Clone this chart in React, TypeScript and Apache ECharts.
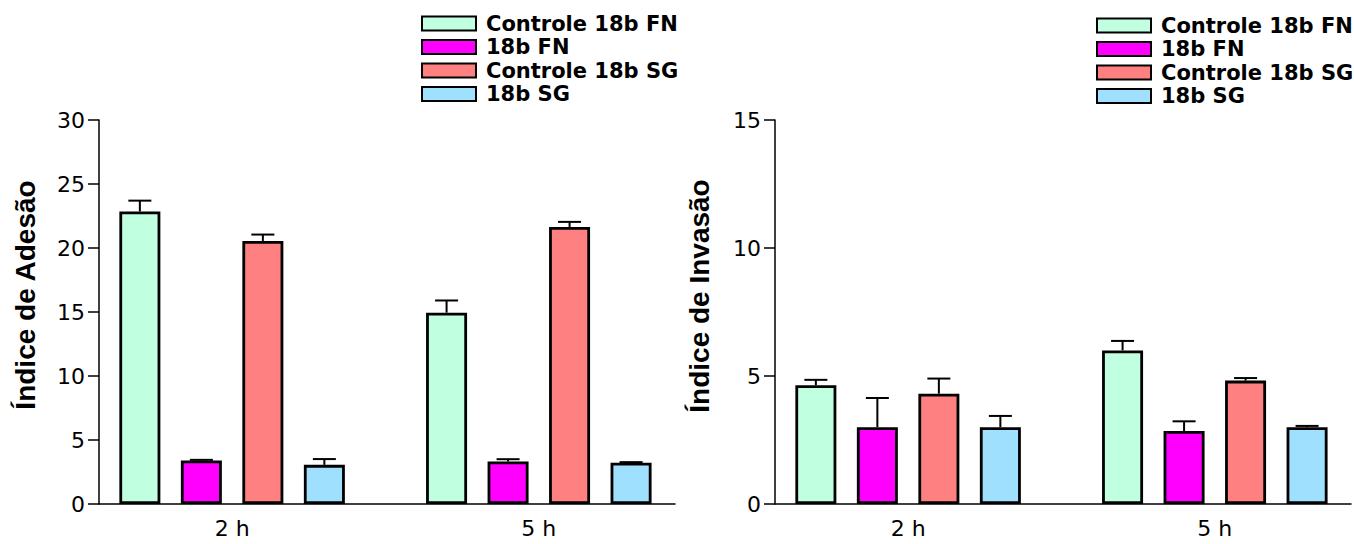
import React, { useEffect, useRef } from "react";
import * as echarts from "echarts";

// Time points (x groups) and the four conditions
const timePoints = ["2 h", "5 h"];
const groupPositions = [1, 2];
const seriesNames = ["Controle 18b FN", "18b FN", "Controle 18b SG", "18b SG"];
const seriesColors = ["#C0FFE0", "#FF00FF", "#FF8080", "#A0E0FF"];

// Adhesion index: means and upper error per condition, for [2 h, 5 h]
const adesaoControleFN = [22.85, 14.95];
const adesao18bFN = [3.4, 3.32];
const adesaoControleSG = [20.55, 21.64];
const adesao18bSG = [3.06, 3.22];
const adesaoErroControleFN = [0.85, 0.95];
const adesaoErro18bFN = [0.05, 0.18];
const adesaoErroControleSG = [0.5, 0.4];
const adesaoErro18bSG = [0.45, 0.05];

// Invasion index: means and upper error per condition, for [2 h, 5 h]
const invasaoControleFN = [4.64, 6.0];
const invasao18bFN = [3.0, 2.85];
const invasaoControleSG = [4.31, 4.82];
const invasao18bSG = [3.0, 3.0];
const invasaoErroControleFN = [0.21, 0.37];
const invasaoErro18bFN = [1.14, 0.38];
const invasaoErroControleSG = [0.59, 0.1];
const invasaoErro18bSG = [0.44, 0.05];

// Y-axis ticks
const adesaoTicks = { min: 0, max: 30, interval: 5 };
const invasaoTicks = { min: 0, max: 15, interval: 5 };

const BAR_WIDTH = 41;
const BAR_GAP_PX = 20.5;
const BAR_STEP = BAR_WIDTH + BAR_GAP_PX;

const textFont = "DejaVu Sans";

function buildPanel(
  gridIndex: number,
  means: number[][],
  errors: number[][]
) {
  const bars = means.map((vals, k) => ({
    type: "bar",
    name: seriesNames[k],
    xAxisIndex: gridIndex,
    yAxisIndex: gridIndex,
    barWidth: BAR_WIDTH,
    barGap: "50%",
    z: 3,
    itemStyle: {
      color: seriesColors[k],
      borderColor: "#000",
      borderWidth: 2.8,
    },
    data: vals.map((v, i) => [groupPositions[i], v]),
  }));

  const errData: number[][] = [];
  means.forEach((vals, k) =>
    vals.forEach((v, i) => errData.push([groupPositions[i], v, errors[k][i], k]))
  );

  const errSeries = {
    type: "custom",
    name: "erro-" + gridIndex,
    xAxisIndex: gridIndex,
    yAxisIndex: gridIndex,
    z: 2,
    silent: true,
    encode: { x: 0, y: 1 },
    data: errData,
    renderItem: (_params: any, api: any) => {
      const x = api.value(0);
      const y = api.value(1);
      const e = api.value(2);
      const k = api.value(3);
      const base = api.coord([x, y]);
      const top = api.coord([x, y + e]);
      const cx = base[0] + (k - 1.5) * BAR_STEP;
      const style = { stroke: "#000", lineWidth: 2 };
      return {
        type: "group",
        children: [
          { type: "line", shape: { x1: cx, y1: base[1], x2: cx, y2: top[1] }, style },
          { type: "line", shape: { x1: cx - 11.5, y1: top[1], x2: cx + 11.5, y2: top[1] }, style },
        ],
      };
    },
  };

  return [...bars, errSeries];
}

function makeXAxis(gridIndex: number) {
  return {
    type: "value",
    gridIndex,
    min: 0.566,
    max: 2.444,
    splitLine: { show: false },
    axisTick: { show: false },
    axisLine: { show: true, onZero: false, lineStyle: { color: "#000", width: 1.5 } },
    axisLabel: {
      customValues: groupPositions,
      formatter: (v: number) => timePoints[groupPositions.indexOf(v)] ?? "",
      fontFamily: textFont,
      fontSize: 22,
      color: "#000",
      margin: 13,
    },
  };
}

function makeYAxis(gridIndex: number, t: { min: number; max: number; interval: number }) {
  return {
    type: "value",
    gridIndex,
    min: t.min,
    max: t.max,
    interval: t.interval,
    splitLine: { show: false },
    axisLine: { show: true, lineStyle: { color: "#000", width: 1.5 } },
    axisTick: { show: true, length: 11, lineStyle: { color: "#000", width: 1.5 } },
    axisLabel: { fontFamily: textFont, fontSize: 22, color: "#000", margin: 14 },
  };
}

function makeLegend(left: number, top: number) {
  return {
    orient: "vertical",
    left,
    top,
    itemWidth: 54,
    itemHeight: 14,
    itemGap: 2.5,
    icon: "rect",
    selectedMode: false,
    data: seriesNames,
    itemStyle: { borderColor: "#000", borderWidth: 2 },
    textStyle: {
      fontFamily: textFont,
      fontWeight: "bold",
      fontSize: 21,
      lineHeight: 21,
      color: "#000",
      padding: [0, 0, 0, 5],
    },
  };
}

function axisTitle(x: number, y: number, text: string) {
  return {
    type: "text",
    x,
    y,
    rotation: Math.PI / 2,
    style: {
      text,
      font: 'bold 28px "Liberation Sans", Arial, sans-serif',
      fill: "#000",
      textAlign: "center",
      textVerticalAlign: "middle",
    },
  };
}

export default function App() {
  const ref = useRef<HTMLDivElement>(null);

  useEffect(() => {
    if (!ref.current) return;
    const chart = echarts.init(ref.current, undefined, { renderer: "svg" });

    const adesaoMeans = [adesaoControleFN, adesao18bFN, adesaoControleSG, adesao18bSG];
    const adesaoErrors = [adesaoErroControleFN, adesaoErro18bFN, adesaoErroControleSG, adesaoErro18bSG];
    const invasaoMeans = [invasaoControleFN, invasao18bFN, invasaoControleSG, invasao18bSG];
    const invasaoErrors = [invasaoErroControleFN, invasaoErro18bFN, invasaoErroControleSG, invasaoErro18bSG];

    chart.setOption({
      animation: false,
      backgroundColor: "#fff",
      grid: [
        { left: 99, top: 120, width: 576, height: 384 },
        { left: 775, top: 120, width: 576, height: 384 },
      ],
      xAxis: [makeXAxis(0), makeXAxis(1)],
      yAxis: [makeYAxis(0, adesaoTicks), makeYAxis(1, invasaoTicks)],
      legend: [makeLegend(416, 8), makeLegend(1091, 10)],
      graphic: [axisTitle(25, 295, "Índice de Adesão"), axisTitle(699, 296, "Índice de Invasão")],
      series: [...buildPanel(0, adesaoMeans, adesaoErrors), ...buildPanel(1, invasaoMeans, invasaoErrors)],
    });

    return () => chart.dispose();
  }, []);

  return (
    <div
      ref={ref}
      style={{ position: "absolute", left: 0, top: 0, width: 1354, height: 544 }}
    />
  );
}
